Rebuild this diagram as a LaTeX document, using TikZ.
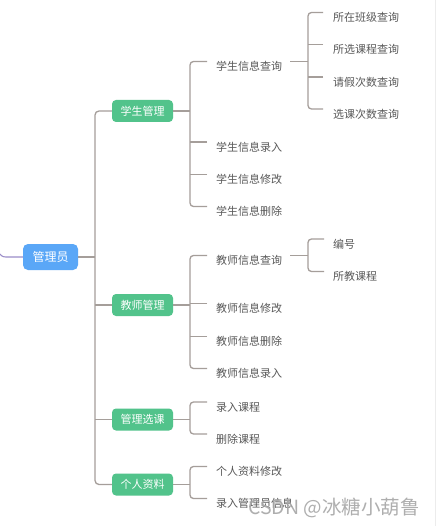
\documentclass[tikz,border=0pt]{standalone}
\usepackage{fontspec}
\setmainfont{Noto Sans CJK SC}
\usetikzlibrary{calc}
\definecolor{linec}{HTML}{A59E9A}
\definecolor{txt}{HTML}{595959}
\definecolor{grn}{HTML}{52C38B}
\definecolor{blu}{HTML}{5AA7F7}
\definecolor{purp}{HTML}{9B8DC8}
\begin{document}
\begin{tikzpicture}[x=1pt,y=-1pt,
 conn/.style={draw=linec,line width=1.3pt},
 leaf/.style={anchor=west,inner sep=0pt,text=txt,font=\fontsize{11}{13}\selectfont,text height=0.88em,text depth=0.12em,yshift=-1pt},
 topic/.style={fill=grn,rounded corners=4pt,text=white,minimum width=61pt,minimum height=22pt,inner sep=0pt,font=\fontsize{11}{13}\selectfont},
 rootbox/.style={fill=blu,rounded corners=5pt,text=white,minimum width=55pt,minimum height=26pt,inner sep=0pt,font=\fontsize{12}{14}\selectfont}]
\fill[white] (0,0) rectangle (436,526);
\useasboundingbox (0,0) rectangle (436,526);
\draw[gray!15,line width=0.8pt] (435.5,0) -- (435.5,526);

% nodes
\node[rootbox] (R) at (50.5,257) {管理员};
\node[topic] (S) at (142.5,111) {学生管理};
\node[topic] (T) at (142.5,305) {教师管理};
\node[topic] (C) at (142.5,419.5) {管理选课};
\node[topic] (P) at (142.5,484.5) {个人资料};

\node[leaf] (s1) at (216,66) {学生信息查询};
\node[leaf] (s2) at (216,146.5) {学生信息录入};
\node[leaf] (s3) at (216,179) {学生信息修改};
\node[leaf] (s4) at (216,211) {学生信息删除};

\node[leaf] (q1) at (333,17) {所在班级查询};
\node[leaf] (q2) at (333,49) {所选课程查询};
\node[leaf] (q3) at (333,81.5) {请假次数查询};
\node[leaf] (q4) at (333,113.5) {选课次数查询};

\node[leaf] (t1) at (216,260) {教师信息查询};
\node[leaf] (t2) at (216,308) {教师信息修改};
\node[leaf] (t3) at (216,341) {教师信息删除};
\node[leaf] (t4) at (216,373) {教师信息录入};

\node[leaf] (e1) at (333,243.5) {编号};
\node[leaf] (e2) at (333,276) {所教课程};

\node[leaf] (c1) at (216,406.5) {录入课程};
\node[leaf] (c2) at (216,438.5) {删除课程};

\node[leaf] (p1) at (216,471) {个人资料修改};
\node[leaf] (p2) at (216,503) {录入管理员信息};

% bracket x positions
\coordinate (t0) at (95,0);
\coordinate (b1) at (190,0);
\coordinate (b2) at (308,0);
\coordinate (L) at (0,254);

% root
\draw[draw=purp,line width=1.1pt] (L) .. controls (2,257) and (4,257) .. (8,257) -- (R.west);
\draw[conn] (R.east) -- (R.east -| t0);
\draw[conn,rounded corners=4pt] (S.west) -| (t0 |- P.west) -- (P.west);
\draw[conn] (T.west) -- (T.west -| t0);
\draw[conn] (C.west) -- (C.west -| t0);

% student
\draw[conn] (S.east) -- (S.east -| b1);
\draw[conn,rounded corners=3.5pt] ($(s1.west)+(-9,-5.5)$) -| ($(b1 |- s4.west)+(0,-5.5)$) -- ($(s4.west)+(-9,-5.5)$);
\draw[conn] ($(s2.west)+(-9,-5.5)$) -- ($(b1 |- s2.west)+(0,-5.5)$);
\draw[conn] ($(s3.west)+(-9,-5.5)$) -- ($(b1 |- s3.west)+(0,-5.5)$);

% student query
\draw[conn] ($(s1.east)+(8,-5.5)$) -- ($(b2 |- s1.east)+(0,-5.5)$);
\draw[conn,rounded corners=3.5pt] ($(q1.west)+(-10,-5.5)$) -| ($(b2 |- q4.west)+(0,-5.5)$) -- ($(q4.west)+(-10,-5.5)$);
\draw[conn] ($(q2.west)+(-10,-5.5)$) -- ($(b2 |- q2.west)+(0,-5.5)$);
\draw[conn] ($(q3.west)+(-10,-5.5)$) -- ($(b2 |- q3.west)+(0,-5.5)$);

% teacher
\draw[conn] (T.east) -- (T.east -| b1);
\draw[conn,rounded corners=3.5pt] ($(t1.west)+(-9,-5.5)$) -| ($(b1 |- t4.west)+(0,-5.5)$) -- ($(t4.west)+(-9,-5.5)$);
\draw[conn] ($(t2.west)+(-9,-5.5)$) -- ($(b1 |- t2.west)+(0,-5.5)$);
\draw[conn] ($(t3.west)+(-9,-5.5)$) -- ($(b1 |- t3.west)+(0,-5.5)$);

% teacher query
\draw[conn] ($(t1.east)+(8,-5.5)$) -- ($(b2 |- t1.east)+(0,-5.5)$);
\draw[conn,rounded corners=3.5pt] ($(e1.west)+(-9,-5.5)$) -| ($(b2 |- e2.west)+(0,-5.5)$) -- ($(e2.west)+(-9,-5.5)$);

% course
\draw[conn] (C.east) -- (C.east -| b1);
\draw[conn,rounded corners=3.5pt] ($(c1.west)+(-9,-5.5)$) -| ($(b1 |- c2.west)+(0,-5.5)$) -- ($(c2.west)+(-9,-5.5)$);

% profile
\draw[conn] (P.east) -- (P.east -| b1);
\draw[conn,rounded corners=3.5pt] ($(p1.west)+(-9,-5.5)$) -| ($(b1 |- p2.west)+(0,-5.5)$) -- ($(p2.west)+(-9,-5.5)$);

% watermark
\node[anchor=west,inner sep=0pt,text=gray!70,opacity=0.9,font=\fontsize{19.5}{21}\selectfont] (wm) at (248,508) {CSDN @冰糖小葫鲁};
\end{tikzpicture}
\end{document}
